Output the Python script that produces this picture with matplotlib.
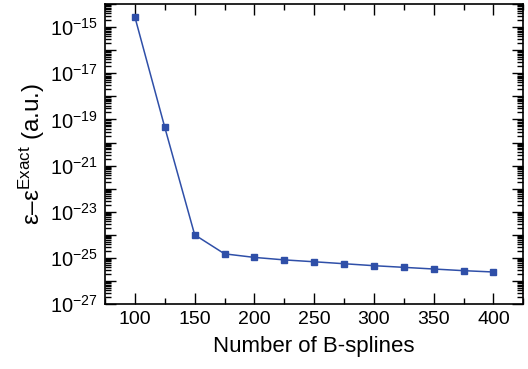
import matplotlib
matplotlib.use('Agg')
import matplotlib.pyplot as plt
import matplotlib.ticker as mticker
import numpy as np

# データの用意
n_bsplines = [100, 125, 150, 175, 200, 225, 250, 275, 300, 325, 350, 375, 400]
error = [2.7e-15, 4.5e-20, 1.0e-24, 1.5e-25, 1.05e-25, 8.2e-26, 6.8e-26,
         5.6e-26, 4.6e-26, 3.9e-26, 3.3e-26, 2.8e-26, 2.45e-26]

plt.rcParams['font.family'] = ['Liberation Sans', 'DejaVu Sans']
plt.rcParams['mathtext.fontset'] = 'custom'
plt.rcParams['mathtext.rm'] = 'Liberation Sans'
plt.rcParams['mathtext.it'] = 'Liberation Sans'

fig = plt.figure(figsize=(5.28, 3.69), dpi=100)
ax = fig.add_axes([0.199, 0.176, 0.792, 0.813])

ax.plot(n_bsplines, error, color='#2f4fa8', lw=1.1, marker='s', ms=5,
        mec='#2f4fa8', mfc='#2f4fa8')

ax.set_yscale('log')
ax.set_xlim(75, 425)
ax.set_ylim(1e-27, 1e-14)

# 軸目盛り
ax.xaxis.set_major_locator(mticker.MultipleLocator(50))
ax.xaxis.set_minor_locator(mticker.MultipleLocator(25))
ax.yaxis.set_major_locator(mticker.LogLocator(base=10, numticks=30))
ax.yaxis.set_minor_locator(mticker.LogLocator(base=10, subs=np.arange(2, 10), numticks=30))
ax.yaxis.set_minor_formatter(mticker.NullFormatter())


def fmt(v, p):
    e = int(round(np.log10(v)))
    if e % 2 != 0 and e < -14:
        return r'$10^{%d}$' % e
    return ''


ax.yaxis.set_major_formatter(mticker.FuncFormatter(fmt))

ax.tick_params(which='both', direction='in', top=True, right=True, width=1.0)
ax.tick_params(which='major', length=8, pad=5)
ax.tick_params(axis='x', which='major', labelsize=14)
ax.tick_params(axis='y', which='major', labelsize=14.5)
ax.tick_params(which='minor', length=4)
for s in ax.spines.values():
    s.set_linewidth(1.2)

# 軸ラベルの設定
ax.set_xlabel('Number of B-splines', fontsize=16, labelpad=6)
ax.set_ylabel(r'ε–ε$^{\mathrm{Exact}}$ (a.u.)', fontsize=17.5, labelpad=2)

fig.savefig('out.png', dpi=100)
